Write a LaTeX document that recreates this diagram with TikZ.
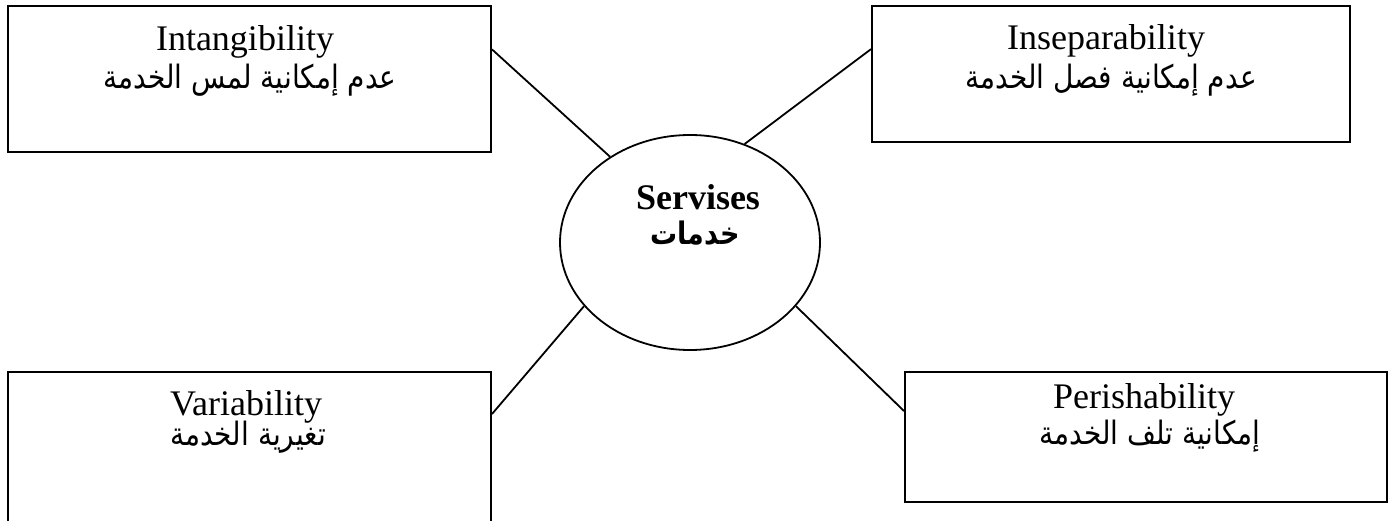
\documentclass[tikz,border=0pt]{standalone}
\usepackage{fontspec}
\setmainfont{Liberation Serif}
\newfontfamily\arabicfont[Script=Arabic]{DejaVu Sans}
\TeXXeTstate=1
\usetikzlibrary{shapes.geometric,calc}
\begin{document}
\begin{tikzpicture}[x=1pt,y=-1pt,
  box/.style={draw,line width=2pt,rectangle,inner sep=0pt},
  hub/.style={draw,line width=1.8pt,ellipse,inner sep=0pt,minimum width=260pt,minimum height=215pt},
  lat/.style={font=\fontsize{36}{40}\selectfont,anchor=base,inner sep=0pt},
  latb/.style={font=\fontsize{36}{40}\selectfont\bfseries,anchor=base,inner sep=0pt},
  arab/.style={font=\arabicfont\fontsize{28}{32}\selectfont,anchor=base,inner sep=0pt,yscale=1.15,transform shape},
  arabb/.style={font=\arabicfont\fontsize{27}{32}\selectfont\bfseries,anchor=base,inner sep=0pt,yscale=1.15,transform shape},
  link/.style={line width=1.8pt}]
\useasboundingbox (0,0) rectangle (1393,521);
\clip (0,0) rectangle (1393,521);
% boxes
\node[box,minimum width=483pt,minimum height=146pt] (tl) at (249.5,79) {};
\node[box,minimum width=478pt,minimum height=136pt] (tr) at (1111,74) {};
\node[box,minimum width=483pt,minimum height=188pt] (bl) at (249.5,466) {};
\node[box,minimum width=482pt,minimum height=130pt] (br) at (1146,437) {};
\node[hub] (el) at (690,242.5) {};
% texts
\node[lat] (tlE) at (245,51) {Intangibility};
\node[arab] (tlA) at (250,89) {\beginR عدم إمكانية لمس الخدمة\endR};
\node[lat] (trE) at (1106,50) {Inseparability};
\node[arab] (trA) at (1111,89) {\beginR عدم إمكانية فصل الخدمة\endR};
\node[lat] (blE) at (246,415) {Variability};
\node[arab] (blA) at (248,446) {\beginR تغيرية الخدمة\endR};
\node[lat] (brE) at (1144,408) {Perishability};
\node[arab] (brA) at (1150,444) {\beginR إمكانية تلف الخدمة\endR};
\node[latb] (elE) at (698,210) {Servises};
\node[arabb] (elA) at (695,245) {\beginR خدمات\endR};
% connectors
\draw[link] ($(tl.north east)!0.30!(tl.south east)$) -- (el.133.8);
\draw[link] (el.61.9) -- ($(tr.north west)!0.32!(tr.south west)$);
\draw[link] (el.211.6) -- ($(bl.north east)+(0,43)$);
\draw[link] (el.329.4) -- ($(br.north west)+(0,40)$);
\end{tikzpicture}
\end{document}
